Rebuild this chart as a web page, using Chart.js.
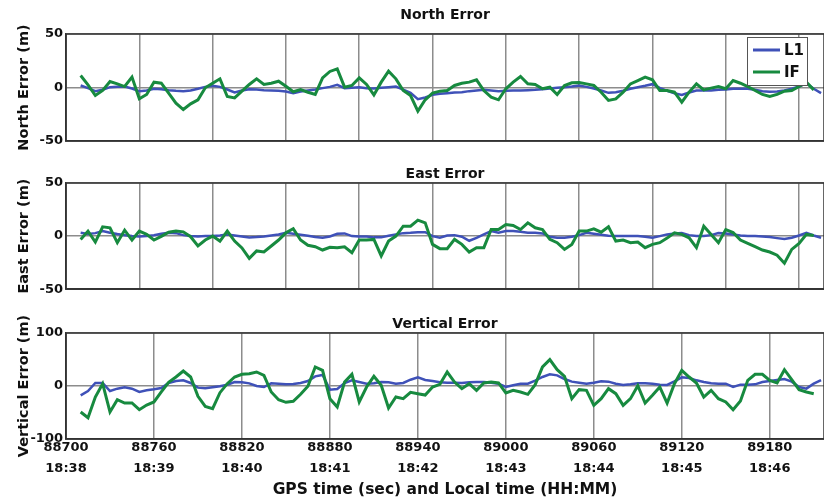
<!DOCTYPE html>
<html>
<head>
<meta charset="utf-8">
<script src="https://cdn.jsdelivr.net/npm/chart.js@4.4.1/dist/chart.umd.min.js"></script>
<style>
  body { margin: 0; background: #fff; }
  #wrap { position: relative; width: 824px; height: 502px; overflow: hidden; background: #fff; }
  #wrap canvas { position: absolute; left: 0; }
</style>
</head>
<body>
<div id="wrap">
  <canvas id="north" width="824" height="160" style="top:0px"></canvas>
  <canvas id="east" width="824" height="150" style="top:150px"></canvas>
  <canvas id="vert" width="824" height="202" style="top:300px"></canvas>
</div>
<script>
// GPS time (sec), one sample every 5 s
const times = [
  88710, 88715, 88720, 88725, 88730, 88735, 88740, 88745, 88750, 88755,
  88760, 88765, 88770, 88775, 88780, 88785, 88790, 88795, 88800, 88805,
  88810, 88815, 88820, 88825, 88830, 88835, 88840, 88845, 88850, 88855,
  88860, 88865, 88870, 88875, 88880, 88885, 88890, 88895, 88900, 88905,
  88910, 88915, 88920, 88925, 88930, 88935, 88940, 88945, 88950, 88955,
  88960, 88965, 88970, 88975, 88980, 88985, 88990, 88995, 89000, 89005,
  89010, 89015, 89020, 89025, 89030, 89035, 89040, 89045, 89050, 89055,
  89060, 89065, 89070, 89075, 89080, 89085, 89090, 89095, 89100, 89105,
  89110, 89115, 89120, 89125, 89130, 89135, 89140, 89145, 89150, 89155,
  89160, 89165, 89170, 89175, 89180, 89185, 89190, 89195, 89200, 89205,
  89210, 89215
];

const northL1 = [
  1.9, -0.6, -3.4, -2.2, 0.3, 0.6, 0.9, -0.9, -3.4, -2.8,
  -1.2, -1.6, -2.5, -3.1, -3.4, -2.8, -1.2, 0.6, 1.6, 0.6,
  -1.9, -4.7, -2.8, -1.6, -1.9, -2.5, -2.8, -3.1, -3.7, -5.3,
  -3.7, -2.8, -1.9, -0.6, 0.6, 2.5, -0.6, -0.3, 0.3, -0.6,
  -0.9, -0.3, 0.3, 0.9, -1.9, -5.0, -10.9, -9.3, -6.9, -5.9,
  -5.3, -4.7, -4.4, -3.4, -2.8, -2.2, -2.8, -3.4, -3.1, -2.8,
  -2.8, -2.5, -2.2, -1.6, -0.9, -0.3, 0.3, 0.9, 1.9, 0.6,
  -0.9, -2.8, -5.0, -4.4, -3.1, -1.2, 0.3, 1.6, 3.1, -0.3,
  -3.1, -5.3, -6.9, -4.7, -2.8, -2.8, -2.8, -2.2, -1.9, -1.2,
  -1.2, -1.2, -2.2, -3.4, -4.0, -3.7, -2.8, -1.2, 0.9, 4.0,
  -1.2, -5.3
];
const northIF = [
  11.2, 2.5, -7.5, -2.8, 5.6, 3.4, 0.9, 9.7, -10.6, -6.5,
  5.0, 4.0, -5.3, -14.6, -20.6, -15.3, -11.5, -0.3, 4.0, 8.1,
  -8.4, -9.7, -3.4, 2.8, 8.1, 2.8, 4.0, 5.9, 1.2, -4.0,
  -1.9, -4.4, -6.5, 9.0, 15.0, 17.4, 0.3, 1.9, 9.0, 2.8,
  -6.9, 5.0, 15.3, 8.1, -2.8, -7.5, -22.1, -11.5, -5.3, -3.4,
  -2.8, 1.9, 4.0, 5.0, 7.2, -2.8, -9.0, -11.5, -1.2, 5.0,
  10.3, 3.4, 2.8, -1.2, 0.3, -6.5, 1.9, 4.4, 4.7, 3.4,
  1.9, -4.4, -12.1, -10.6, -4.4, 3.4, 6.5, 9.7, 7.2, -2.8,
  -2.8, -4.4, -13.7, -4.4, 3.4, -2.2, -0.6, 0.9, -1.2, 6.5,
  4.0, 0.9, -2.8, -6.5, -8.4, -6.5, -3.4, -2.8, 0.9, 5.0,
  -2.2, null
];

const eastL1 = [
  3.1, 1.9, 2.8, 4.7, 3.1, 1.9, 0.9, 0, -0.3, 0,
  0.9, 2.2, 3.1, 2.8, 0.9, 0, -0.3, 0, 0, 0.6,
  1.6, 0.6, -0.3, -1.2, -0.9, -0.3, 0.6, 1.6, 3.1, 2.2,
  1.2, 0.3, -0.9, -1.6, -0.3, 2.2, 2.5, 0, -0.3, -0.3,
  -1.2, -1.2, 0.3, 1.6, 2.8, 3.1, 3.7, 3.7, 0, -1.6,
  0.6, 0.9, -0.6, -4.4, -1.6, 1.6, 4.7, 3.1, 4.7, 4.7,
  4.0, 3.1, 3.1, 2.5, -0.6, -1.6, -1.6, -0.6, 0.9, 3.1,
  2.2, 1.2, 0.3, 0, 0, 0, 0, -0.6, -1.6, 0,
  1.6, 2.5, 2.8, 0.9, 0, 0, 0.9, 2.8, 2.5, 1.6,
  0.6, 0, 0, -0.3, -0.9, -1.9, -2.8, -1.6, 0.6, 3.1,
  0.6, -1.6
];
const eastIF = [
  -3.1, 4.7, -5.6, 8.7, 7.8, -6.2, 5.6, -3.7, 4.7, 1.6,
  -3.7, -0.3, 3.7, 4.7, 4.0, -0.6, -9.3, -3.7, 0, -4.7,
  4.7, -4.7, -11.2, -21.0, -14.0, -15.0, -9.3, -3.7, 3.1, 6.9,
  -3.7, -8.7, -10.0, -13.1, -10.6, -10.9, -10.0, -15.6, -3.7, -3.7,
  -3.1, -18.7, -4.7, 0, 9.3, 9.3, 15.0, 12.5, -7.8, -11.8,
  -11.8, -3.1, -7.8, -15.0, -10.9, -10.9, 6.2, 6.2, 10.9, 10.0,
  6.2, 12.5, 7.8, 6.2, -3.1, -6.2, -12.5, -7.8, 4.7, 4.7,
  6.9, 3.7, 8.7, -4.7, -3.7, -6.2, -5.6, -10.9, -7.8, -6.2,
  -1.9, 3.1, 1.6, -1.6, -10.9, 9.3, 1.6, -6.2, 6.2, 3.4,
  -3.7, -6.9, -10.0, -13.1, -15.0, -18.0, -25.5, -12.5, -6.9, 1.6,
  0.6, null
];

const vertL1 = [
  -17.6, -9.4, 5.7, 5.7, -9.4, -5.0, -2.5, -5.0, -11.3, -8.2,
  -6.3, -3.8, 5.7, 9.4, 10.7, 5.7, -3.1, -4.4, -2.5, -0.6,
  2.5, 7.5, 6.9, 5.0, 0, -1.9, 5.0, 4.4, 3.1, 3.8,
  5.7, 9.4, 18.2, 20.8, -6.9, -5.7, 5.7, 10.7, 7.5, 4.4,
  5.0, 7.5, 6.9, 4.4, 5.7, 11.9, 16.4, 11.3, 9.4, 6.9,
  6.3, 6.3, 5.7, 6.9, 7.5, 7.5, 6.3, 4.4, -1.9, 1.3,
  4.4, 4.4, 10.0, 17.0, 22.0, 20.1, 13.2, 8.2, 6.3, 4.4,
  6.3, 8.8, 8.2, 4.4, 1.9, 3.1, 5.0, 5.0, 4.4, 2.5,
  1.9, 8.8, 16.4, 15.1, 10.7, 7.5, 5.0, 4.4, 4.4, -1.9,
  2.5, 2.5, 3.1, 7.5, 9.4, 11.3, 13.2, 8.2, -1.9, -5.0,
  4.4, 11.3
];
const vertIF = [
  -49.0, -59.8, -20.8, 4.4, -49.0, -25.8, -32.1, -32.1, -44.7, -35.9,
  -30.2, -11.3, 6.9, 17.0, 28.3, 17.0, -19.5, -38.4, -42.8, -12.6,
  4.4, 17.0, 22.0, 23.3, 26.4, 20.1, -11.3, -25.8, -30.8, -28.9,
  -15.7, -0.6, 35.9, 29.6, -23.9, -39.6, 7.5, 22.0, -30.2, -1.9,
  18.2, 1.3, -41.5, -20.8, -23.9, -12.0, -14.5, -17.0, -1.9, 3.1,
  26.4, 7.5, -5.0, 4.4, -8.2, 5.7, 7.5, 5.7, -13.2, -8.2,
  -11.3, -15.7, 2.5, 35.9, 49.7, 30.8, 18.2, -23.9, -6.9, -8.2,
  -36.5, -23.9, -5.0, -14.5, -36.5, -23.9, 0.6, -32.1, -17.6, -1.9,
  -32.1, 4.4, 29.6, 17.0, 5.7, -20.8, -8.2, -23.9, -30.2, -44.7,
  -28.3, 10.7, 22.0, 22.0, 10.7, 5.7, 30.8, 11.9, -6.9, -11.3,
  -14.5, null
];

// bottom axis tick labels: GPS seconds and local clock time
const xTickSec = [88700, 88760, 88820, 88880, 88940, 89000, 89060, 89120, 89180];
const xTickClock = ['18:38', '18:39', '18:40', '18:41', '18:42', '18:43', '18:44', '18:45', '18:46'];

const X_MIN = 88700, X_MAX = 89217;
const BLUE = '#3f51b8';
const GREEN = '#178a3f';

Chart.defaults.font.family = '"DejaVu Sans", sans-serif';
Chart.defaults.color = '#111';

const panelPlugin = {
  id: 'panel',
  afterDraw(chart, args, opts) {
    const {ctx, chartArea: a} = chart;
    ctx.save();
    ctx.strokeStyle = '#333';
    ctx.lineWidth = 1.5;
    ctx.strokeRect(a.left, a.top, a.right - a.left, a.bottom - a.top);
    ctx.fillStyle = '#111';
    ctx.font = 'bold 14px "DejaVu Sans"';
    ctx.textAlign = 'center';
    ctx.textBaseline = 'middle';
    ctx.fillText(opts.title, (a.left + a.right) / 2, opts.titleY);
    if (opts.legend) {
      // legend box inside the top-right corner of the plot
      const bx = a.right - 77, by = a.top + 3, bw = 60, bh = 48;
      ctx.fillStyle = '#fff';
      ctx.fillRect(bx, by, bw, bh);
      ctx.strokeStyle = '#555';
      ctx.lineWidth = 1;
      ctx.strokeRect(bx + 0.5, by + 0.5, bw, bh);
      ctx.font = 'bold 15px "DejaVu Sans"';
      chart.data.datasets.forEach((ds, i) => {
        const ly = by + 13 + i * 22;
        ctx.strokeStyle = ds.borderColor;
        ctx.lineWidth = 3;
        ctx.beginPath();
        ctx.moveTo(bx + 6, ly);
        ctx.lineTo(bx + 33, ly);
        ctx.stroke();
        ctx.fillStyle = '#111';
        ctx.textAlign = 'left';
        ctx.fillText(ds.label, bx + 37, ly + 1);
      });
    }
    ctx.restore();
  }
};

function series(vals) {
  return times.map((t, i) => ({x: t, y: vals[i]}));
}

function yAxis(min, max, step, label) {
  return {
    min: min, max: max,
    ticks: {stepSize: step, padding: 3, color: '#111', font: {size: 13, weight: 'bold'}},
    grid: {color: '#8c8c8c', lineWidth: 1.5, drawTicks: false},
    border: {color: '#333', width: 1.5},
    title: {display: true, text: label, color: '#111', font: {size: 14.5, weight: 'bold'}, padding: {top: 16, bottom: 0}},
    afterFit: s => { s.width = 66; }
  };
}

function topXAxis(h) {
  return {
    type: 'linear', min: X_MIN, max: X_MAX,
    ticks: {display: false, stepSize: 50, includeBounds: false},
    grid: {color: '#8c8c8c', lineWidth: 1.5, drawTicks: false},
    border: {color: '#333', width: 1.5},
    afterFit: s => { s.height = h; }
  };
}

function makeChart(id, l1, iF, yA, xA, padTop, panel) {
  return new Chart(document.getElementById(id), {
    type: 'line',
    data: {
      datasets: [
        {label: 'L1', data: series(l1), borderColor: BLUE, borderWidth: 2.5, order: 1},
        {label: 'IF', data: series(iF), borderColor: GREEN, borderWidth: 3, order: 0}
      ]
    },
    options: {
      responsive: false,
      animation: false,
      devicePixelRatio: 1,
      layout: {padding: {top: padTop, left: 0, right: 0, bottom: 0}},
      elements: {point: {radius: 0}, line: {tension: 0, spanGaps: false}},
      scales: {x: xA, y: yA},
      plugins: {legend: {display: false}, tooltip: {enabled: false}, panel: panel}
    },
    plugins: [panelPlugin]
  });
}

makeChart('north', northL1, northIF, yAxis(-50, 50, 50, 'North Error (m)'), topXAxis(19), 34,
  {title: 'North Error', titleY: 15.5, legend: true});

makeChart('east', eastL1, eastIF, yAxis(-50, 50, 50, 'East Error (m)'), topXAxis(10), 33,
  {title: 'East Error', titleY: 24.5, legend: false});

makeChart('vert', vertL1, vertIF, yAxis(-100, 100, 100, 'Vertical Error (m)'), {
  type: 'linear', min: X_MIN, max: X_MAX,
  afterBuildTicks: s => { s.ticks = xTickSec.map(v => ({value: v})); },
  ticks: {
    autoSkip: false, maxRotation: 0, padding: -2, color: '#111',
    font: {size: 13, weight: 'bold', lineHeight: 1.6},
    callback: v => {
      const i = xTickSec.indexOf(v);
      return i < 0 ? '' : [String(v), xTickClock[i]];
    }
  },
  grid: {color: '#8c8c8c', lineWidth: 1.5, drawTicks: false},
  border: {color: '#333', width: 1.5},
  title: {display: true, text: 'GPS time (sec) and Local time (HH:MM)', color: '#111',
    font: {size: 15.5, weight: 'bold'}, padding: {top: 0, bottom: 2.4}},
  afterFit: s => { s.height = 63; }
}, 33, {title: 'Vertical Error', titleY: 24.5, legend: false});
</script>
</body>
</html>
